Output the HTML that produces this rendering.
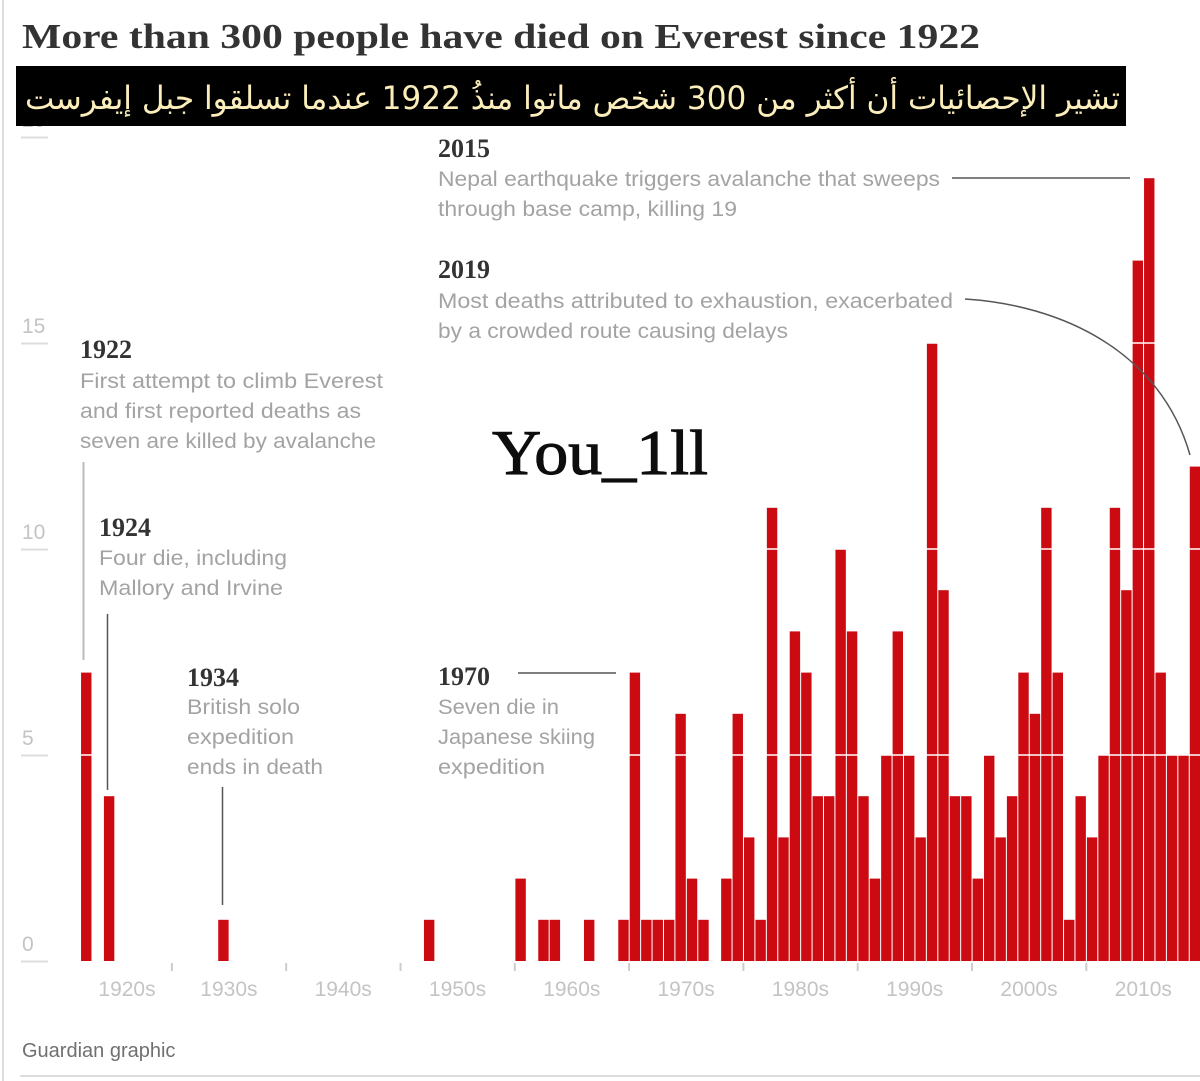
<!DOCTYPE html>
<html><head><meta charset="utf-8"><style>
html,body{margin:0;padding:0;background:#fff;width:1200px;height:1081px;overflow:hidden}
svg{display:block}
.ann{font-family:"Liberation Sans",sans-serif;font-size:21px;fill:#a3a3a3}
.yr{font-family:"Liberation Serif",serif;font-size:26px;font-weight:bold;fill:#333}
.tk{font-family:"Liberation Sans",sans-serif;font-size:21px;fill:#c4c4c4}
</style></head><body>
<svg id="chart" width="1200" height="1081" viewBox="0 0 1200 1081" xmlns="http://www.w3.org/2000/svg">
<defs><filter id="glow" x="-10%" y="-30%" width="120%" height="160%"><feGaussianBlur in="SourceAlpha" stdDeviation="3"/><feFlood flood-color="#fff"/><feComposite operator="in" in2="SourceAlpha"/><feMerge><feMergeNode/><feMergeNode in="SourceGraphic"/></feMerge></filter></defs>
<line x1="3" y1="0" x2="3" y2="1081" stroke="#ddd" stroke-width="2"/>
<line x1="20" y1="1076" x2="1200" y2="1076" stroke="#ddd" stroke-width="2"/>
<text x="22" y="48" style="font-family:'Liberation Serif',serif;font-weight:bold;font-size:35px;fill:#333" textLength="958" lengthAdjust="spacingAndGlyphs">More than 300 people have died on Everest since 1922</text>
<g id="yaxis"></g>
<g id="xaxis"></g>
<g id="bars"></g>
<g id="grid"></g>

<g>
<text class="yr" x="80" y="358">1922</text>
<text class="ann" x="80" y="388" textLength="303" lengthAdjust="spacingAndGlyphs">First attempt to climb Everest</text>
<text class="ann" x="80" y="418" textLength="281" lengthAdjust="spacingAndGlyphs">and first reported deaths as</text>
<text class="ann" x="80" y="448" textLength="296" lengthAdjust="spacingAndGlyphs">seven are killed by avalanche</text>
<line x1="83.5" y1="462" x2="83.5" y2="660" stroke="#bbb" stroke-width="2"/>
</g>
<g>
<text class="yr" x="99" y="536">1924</text>
<text class="ann" x="99" y="565" textLength="188" lengthAdjust="spacingAndGlyphs">Four die, including</text>
<text class="ann" x="99" y="595" textLength="184" lengthAdjust="spacingAndGlyphs">Mallory and Irvine</text>
<line x1="107.5" y1="614" x2="107.5" y2="790" stroke="#555" stroke-width="1.5"/>
</g>
<g>
<text class="yr" x="187" y="686">1934</text>
<text class="ann" x="187" y="714" textLength="113" lengthAdjust="spacingAndGlyphs">British solo</text>
<text class="ann" x="187" y="744" textLength="107" lengthAdjust="spacingAndGlyphs">expedition</text>
<text class="ann" x="187" y="774" textLength="136" lengthAdjust="spacingAndGlyphs">ends in death</text>
<line x1="222.5" y1="787" x2="222.5" y2="905" stroke="#555" stroke-width="1.5"/>
</g>
<g>
<text class="yr" x="438" y="685">1970</text>
<text class="ann" x="438" y="714" textLength="121" lengthAdjust="spacingAndGlyphs">Seven die in</text>
<text class="ann" x="438" y="744" textLength="157" lengthAdjust="spacingAndGlyphs">Japanese skiing</text>
<text class="ann" x="438" y="774" textLength="107" lengthAdjust="spacingAndGlyphs">expedition</text>
<line x1="518" y1="673" x2="616" y2="673" stroke="#555" stroke-width="1.5"/>
</g>
<g>
<text class="yr" x="438" y="157">2015</text>
<text class="ann" x="438" y="186" textLength="502" lengthAdjust="spacingAndGlyphs">Nepal earthquake triggers avalanche that sweeps</text>
<text class="ann" x="438" y="216" textLength="299" lengthAdjust="spacingAndGlyphs">through base camp, killing 19</text>
<line x1="952" y1="178" x2="1130" y2="178" stroke="#555" stroke-width="1.5"/>
</g>
<g>
<text class="yr" x="438" y="278">2019</text>
<text class="ann" x="438" y="308" textLength="515" lengthAdjust="spacingAndGlyphs">Most deaths attributed to exhaustion, exacerbated</text>
<text class="ann" x="438" y="338" textLength="350" lengthAdjust="spacingAndGlyphs">by a crowded route causing delays</text>
<path d="M965,299 C1060,305 1160,350 1190,455" fill="none" stroke="#555" stroke-width="1.5"/>
</g>

<rect x="16" y="66" width="1110" height="60" fill="#000"/>
<text x="1120" y="109" direction="rtl" text-anchor="start" style="font-family:'DejaVu Sans','Noto Sans CJK SC',sans-serif;font-size:32px;fill:#fbeebb" textLength="1095" lengthAdjust="spacingAndGlyphs">تشير الإحصائيات أن أكثر من 300 شخص ماتوا منذُ 1922 عندما تسلقوا جبل إيفرست</text>

<text x="492" y="474" filter="url(#glow)" style="font-family:'Liberation Serif',serif;font-size:64px;fill:#111;stroke:#111;stroke-width:1.2" textLength="216" lengthAdjust="spacingAndGlyphs">You_1ll</text>
<text x="22" y="1057" style="font-family:'Liberation Sans',sans-serif;font-size:20px;fill:#707070">Guardian graphic</text>
</svg>
<script>
const years = [1922,1924,1934,1952,1960,1962,1963,1966,1969,1970,1971,1972,1973,1974,1975,1976,1978,1979,1980,1981,1982,1983,1984,1985,1986,1987,1988,1989,1990,1991,1992,1993,1994,1995,1996,1997,1998,1999,2000,2001,2002,2003,2004,2005,2006,2007,2008,2009,2010,2011,2012,2013,2014,2015,2016,2017,2018,2019];
const deaths = [7,4,1,1,2,1,1,1,1,7,1,1,1,6,2,1,2,6,3,1,11,3,8,7,4,4,10,8,4,2,5,8,5,3,15,9,4,4,2,5,3,4,7,6,11,7,1,4,3,5,11,9,17,19,7,5,5,12];
const yTicks = [0,5,10,15,20];
const decades = [1920,1930,1940,1950,1960,1970,1980,1990,2000,2010];
const decadeLabels = ["1920s","1930s","1940s","1950s","1960s","1970s","1980s","1990s","2000s","2010s"];
const NS = "http://www.w3.org/2000/svg";
const x = yr => 57.6 + (yr - 1920) * 11.43;
const y = v => 961 - v * 41.2;
function mk(tag, attrs, parent){const e=document.createElementNS(NS,tag);for(const k in attrs)e.setAttribute(k,attrs[k]);parent.appendChild(e);return e;}
const gy=document.getElementById('yaxis'), gx=document.getElementById('xaxis'), gb=document.getElementById('bars'), gg=document.getElementById('grid');
yTicks.forEach(t=>{
  const tx=mk('text',{x:22,y:y(t)-10,class:'tk'},gy);tx.textContent=t;
  
  
  const l=mk('line',{x1:21,x2:48,y1:y(t)+0.5,y2:y(t)+0.5,stroke:'#ddd','stroke-width':2},gy);
  
  
});
decades.forEach((d,i)=>{
  if(i>0){const l=mk('line',{x1:x(d),x2:x(d),y1:963,y2:971,stroke:'#ccc','stroke-width':2},gx);
  
  }
  const cx = i===0 ? 127 : x(d)+57;
  const t=mk('text',{x:cx,y:996,'text-anchor':'middle',class:'tk'},gx);t.textContent=decadeLabels[i];
  
  
});
years.forEach((yr,i)=>{
  const r=mk('rect',{x:x(yr)+0.6,y:y(deaths[i]),width:10.4,height:961-y(deaths[i]),fill:'#cc0a11'},gb);
  
  
});
[5,10,15].forEach(t=>{
  const l=mk('line',{x1:60,x2:1200,y1:y(t),y2:y(t),stroke:'#fff','stroke-width':1.5},gg);
  
  
});
</script>
</body></html>
